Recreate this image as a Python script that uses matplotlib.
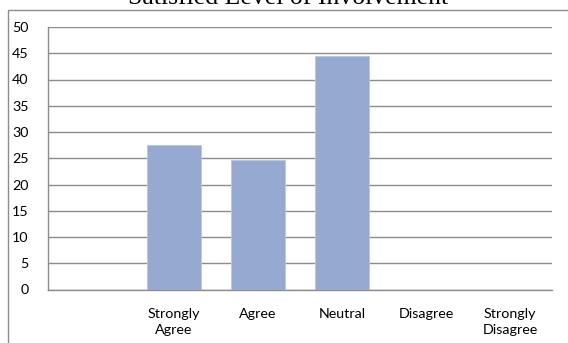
import matplotlib.pyplot as plt
from matplotlib.patches import Rectangle

categories = ["", "Strongly\nAgree", "Agree", "Neutral", "Disagree", "Strongly\nDisagree"]
values = [0, 27.6, 24.7, 44.4, 0, 0]
yticks = [0, 5, 10, 15, 20, 25, 30, 35, 40, 45, 50]

W, H = 568, 343
fig = plt.figure(figsize=(W / 100, H / 100), dpi=100)

# outer chart border (runs off the right and bottom edge)
fig.patches.append(Rectangle((7.5 / W, -0.1), 1.2, 1 - 10 / H + 0.1,
                             transform=fig.transFigure, fill=False,
                             edgecolor='#8c8c8c', lw=1))

ax = fig.add_axes([48 / W, (H - 289.5) / H, (552 - 48) / W, (289.5 - 27) / H])

x = range(len(categories))
ax.bar(x, values, width=0.65, color='#95A9D1', edgecolor='#B8C7E4', lw=0.6, zorder=3)

ax.set_xlim(-0.5, len(categories) - 0.5)
ax.set_ylim(0, 50)
ax.set_yticks(yticks)
ax.set_xticks(list(x))
ax.set_xticklabels(categories, fontsize=10.3, family='Lato', linespacing=1.45)
for lab in ax.get_yticklabels():
    lab.set_fontsize(10.3)
    lab.set_family('Lato')
ax.tick_params(length=0, pad=14, axis='y')
ax.tick_params(length=0, pad=13, axis='x')
ax.yaxis.grid(True, color='#8c8c8c', lw=1)
ax.set_axisbelow(True)

for s in ['top', 'right']:
    ax.spines[s].set_visible(False)
for s in ['left', 'bottom']:
    ax.spines[s].set_color('#8c8c8c')
    ax.spines[s].set_linewidth(1)

fig.text(288 / W, 1 - 4 / H, "Satisfied Level of Involvement", ha='center', va='baseline',
         fontsize=18.5, family='Liberation Serif')

fig.savefig('out.png', dpi=100)
